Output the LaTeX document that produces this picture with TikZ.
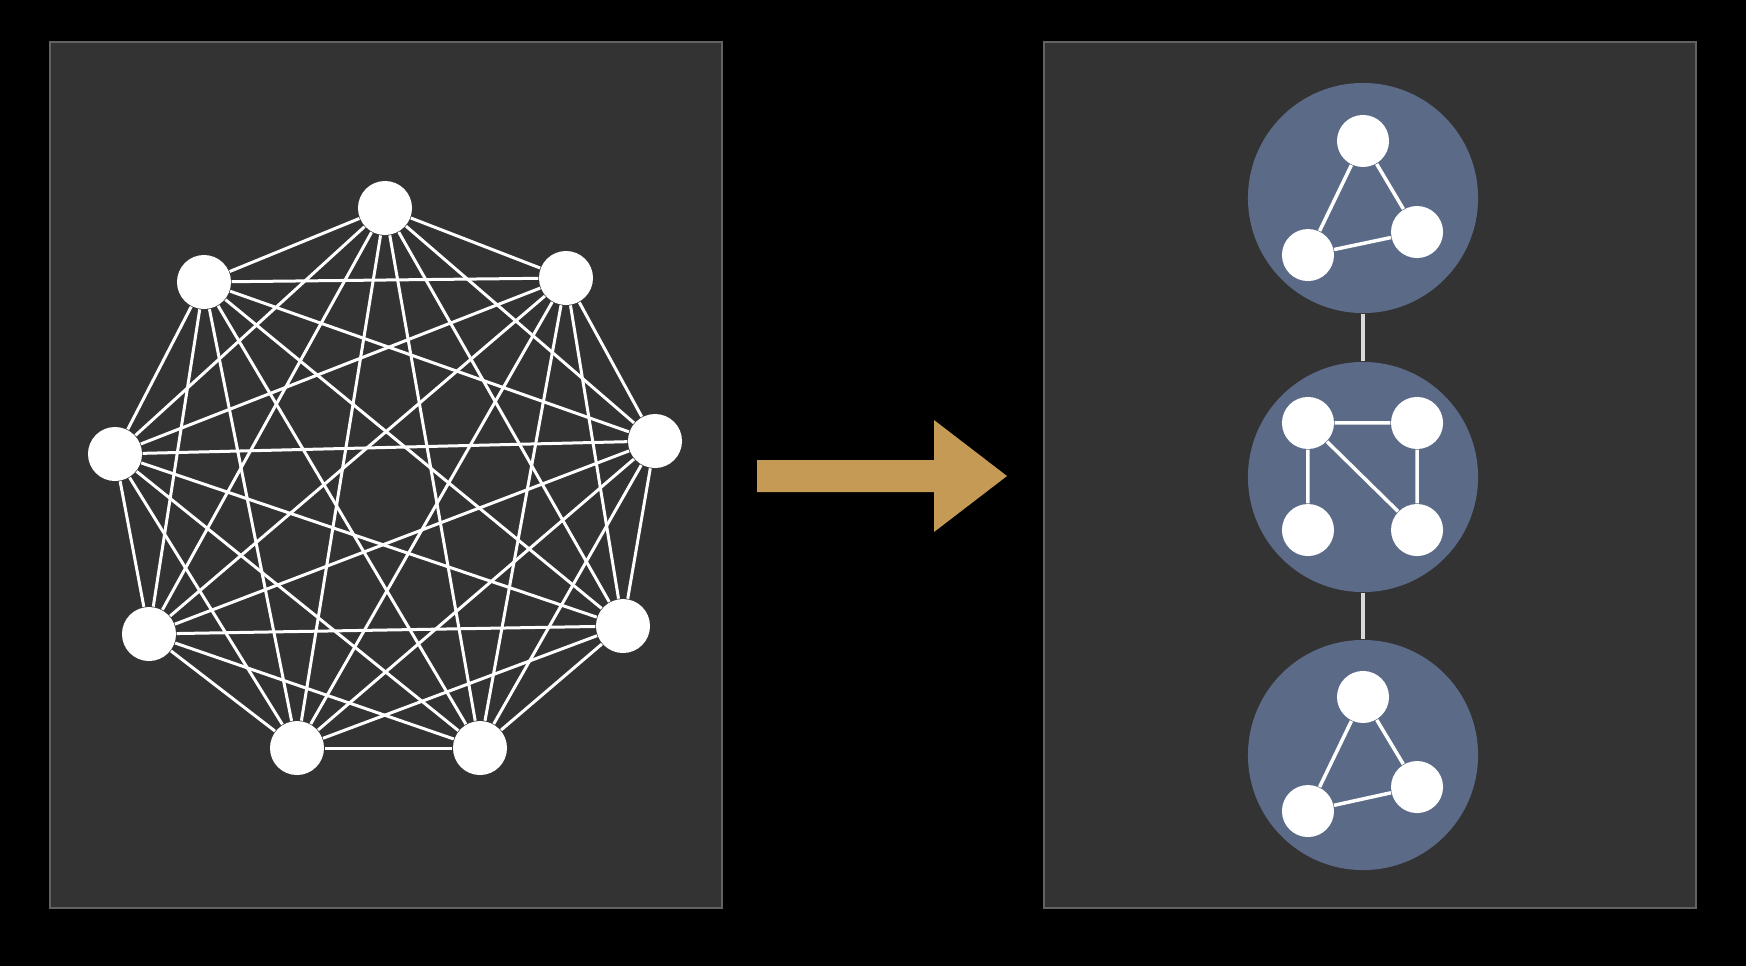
\documentclass[tikz,border=0pt]{standalone}
\usetikzlibrary{positioning}
\definecolor{backblack}{HTML}{000000}
\definecolor{panelgray}{HTML}{333333}
\definecolor{panelrim}{HTML}{626262}
\definecolor{clusterblue}{HTML}{5B6B87}
\definecolor{flowgold}{HTML}{C49A55}
\tikzset{
    pixgrid/.style={x=0.01cm, y=-0.01cm},
    % riquadri di sfondo
    panel/.style={draw=panelrim, fill=panelgray, line width=0.025cm},
    % vertici del grafo completo
    vertex/.style={circle, fill=white, minimum size=0.54cm, inner sep=0pt},
    % vertici dentro i gruppi
    subvertex/.style={circle, fill=white, minimum size=0.52cm, inner sep=0pt},
    cluster/.style={circle, fill=clusterblue, minimum size=2.3cm, inner sep=0pt},
    link/.style={draw=white, line width=0.03cm},
    sublink/.style={draw=white, line width=0.035cm},
    bridge/.style={draw=white!85!black, line width=0.035cm}
}
\begin{document}
\begin{tikzpicture}[pixgrid, on grid]
    \fill[backblack] (0,0) rectangle (1746,966);
    \draw[panel] (50,42) rectangle (722,908);
    \draw[panel] (1044,42) rectangle (1696,908);

    % grafo completo a sinistra
    \node[vertex] (n1) at (385,208) {};
    \node[vertex] (n2) at (566,278) {};
    \node[vertex] (n3) at (655,441) {};
    \node[vertex] (n4) at (623,626) {};
    \node[vertex] (n5) at (480,748) {};
    \node[vertex] (n6) at (297,748) {};
    \node[vertex] (n7) at (149,634) {};
    \node[vertex] (n8) at (115,454) {};
    \node[vertex] (n9) at (204,282) {};
    \foreach \i in {1,...,9}{
        \foreach \j in {1,...,9}{
            \ifnum\i<\j \draw[link] (n\i) -- (n\j); \fi
        }
    }

    % freccia
    \fill[flowgold] (757,460) -- (934,460) -- (934,420) -- (1007,476)
        -- (934,532) -- (934,492) -- (757,492) -- cycle;

    % gruppi a destra
    \node[cluster] (c1) at (1363,198) {};
    \node[cluster] (c2) at (1363,477) {};
    \node[cluster] (c3) at (1363,755) {};
    \draw[bridge] (c1) -- (c2);
    \draw[bridge] (c2) -- (c3);

    \node[subvertex, above=0.57cm of c1] (t1) {};
    \node[subvertex, below left=0.57cm and 0.55cm of c1] (l1) {};
    \node[subvertex, below right=0.34cm and 0.54cm of c1] (r1) {};
    \draw[sublink] (t1) -- (l1) -- (r1) -- (t1);

    \node[subvertex, above left=0.54cm and 0.55cm of c2] (a2) {};
    \node[subvertex, above right=0.54cm and 0.54cm of c2] (b2) {};
    \node[subvertex, below left=0.53cm and 0.55cm of c2] (d2) {};
    \node[subvertex, below right=0.53cm and 0.54cm of c2] (e2) {};
    \draw[sublink] (d2) -- (a2) -- (b2) -- (e2) -- (a2);

    \node[subvertex, above=0.58cm of c3] (t3) {};
    \node[subvertex, below left=0.56cm and 0.55cm of c3] (l3) {};
    \node[subvertex, below right=0.32cm and 0.54cm of c3] (r3) {};
    \draw[sublink] (t3) -- (l3) -- (r3) -- (t3);
\end{tikzpicture}
\end{document}
